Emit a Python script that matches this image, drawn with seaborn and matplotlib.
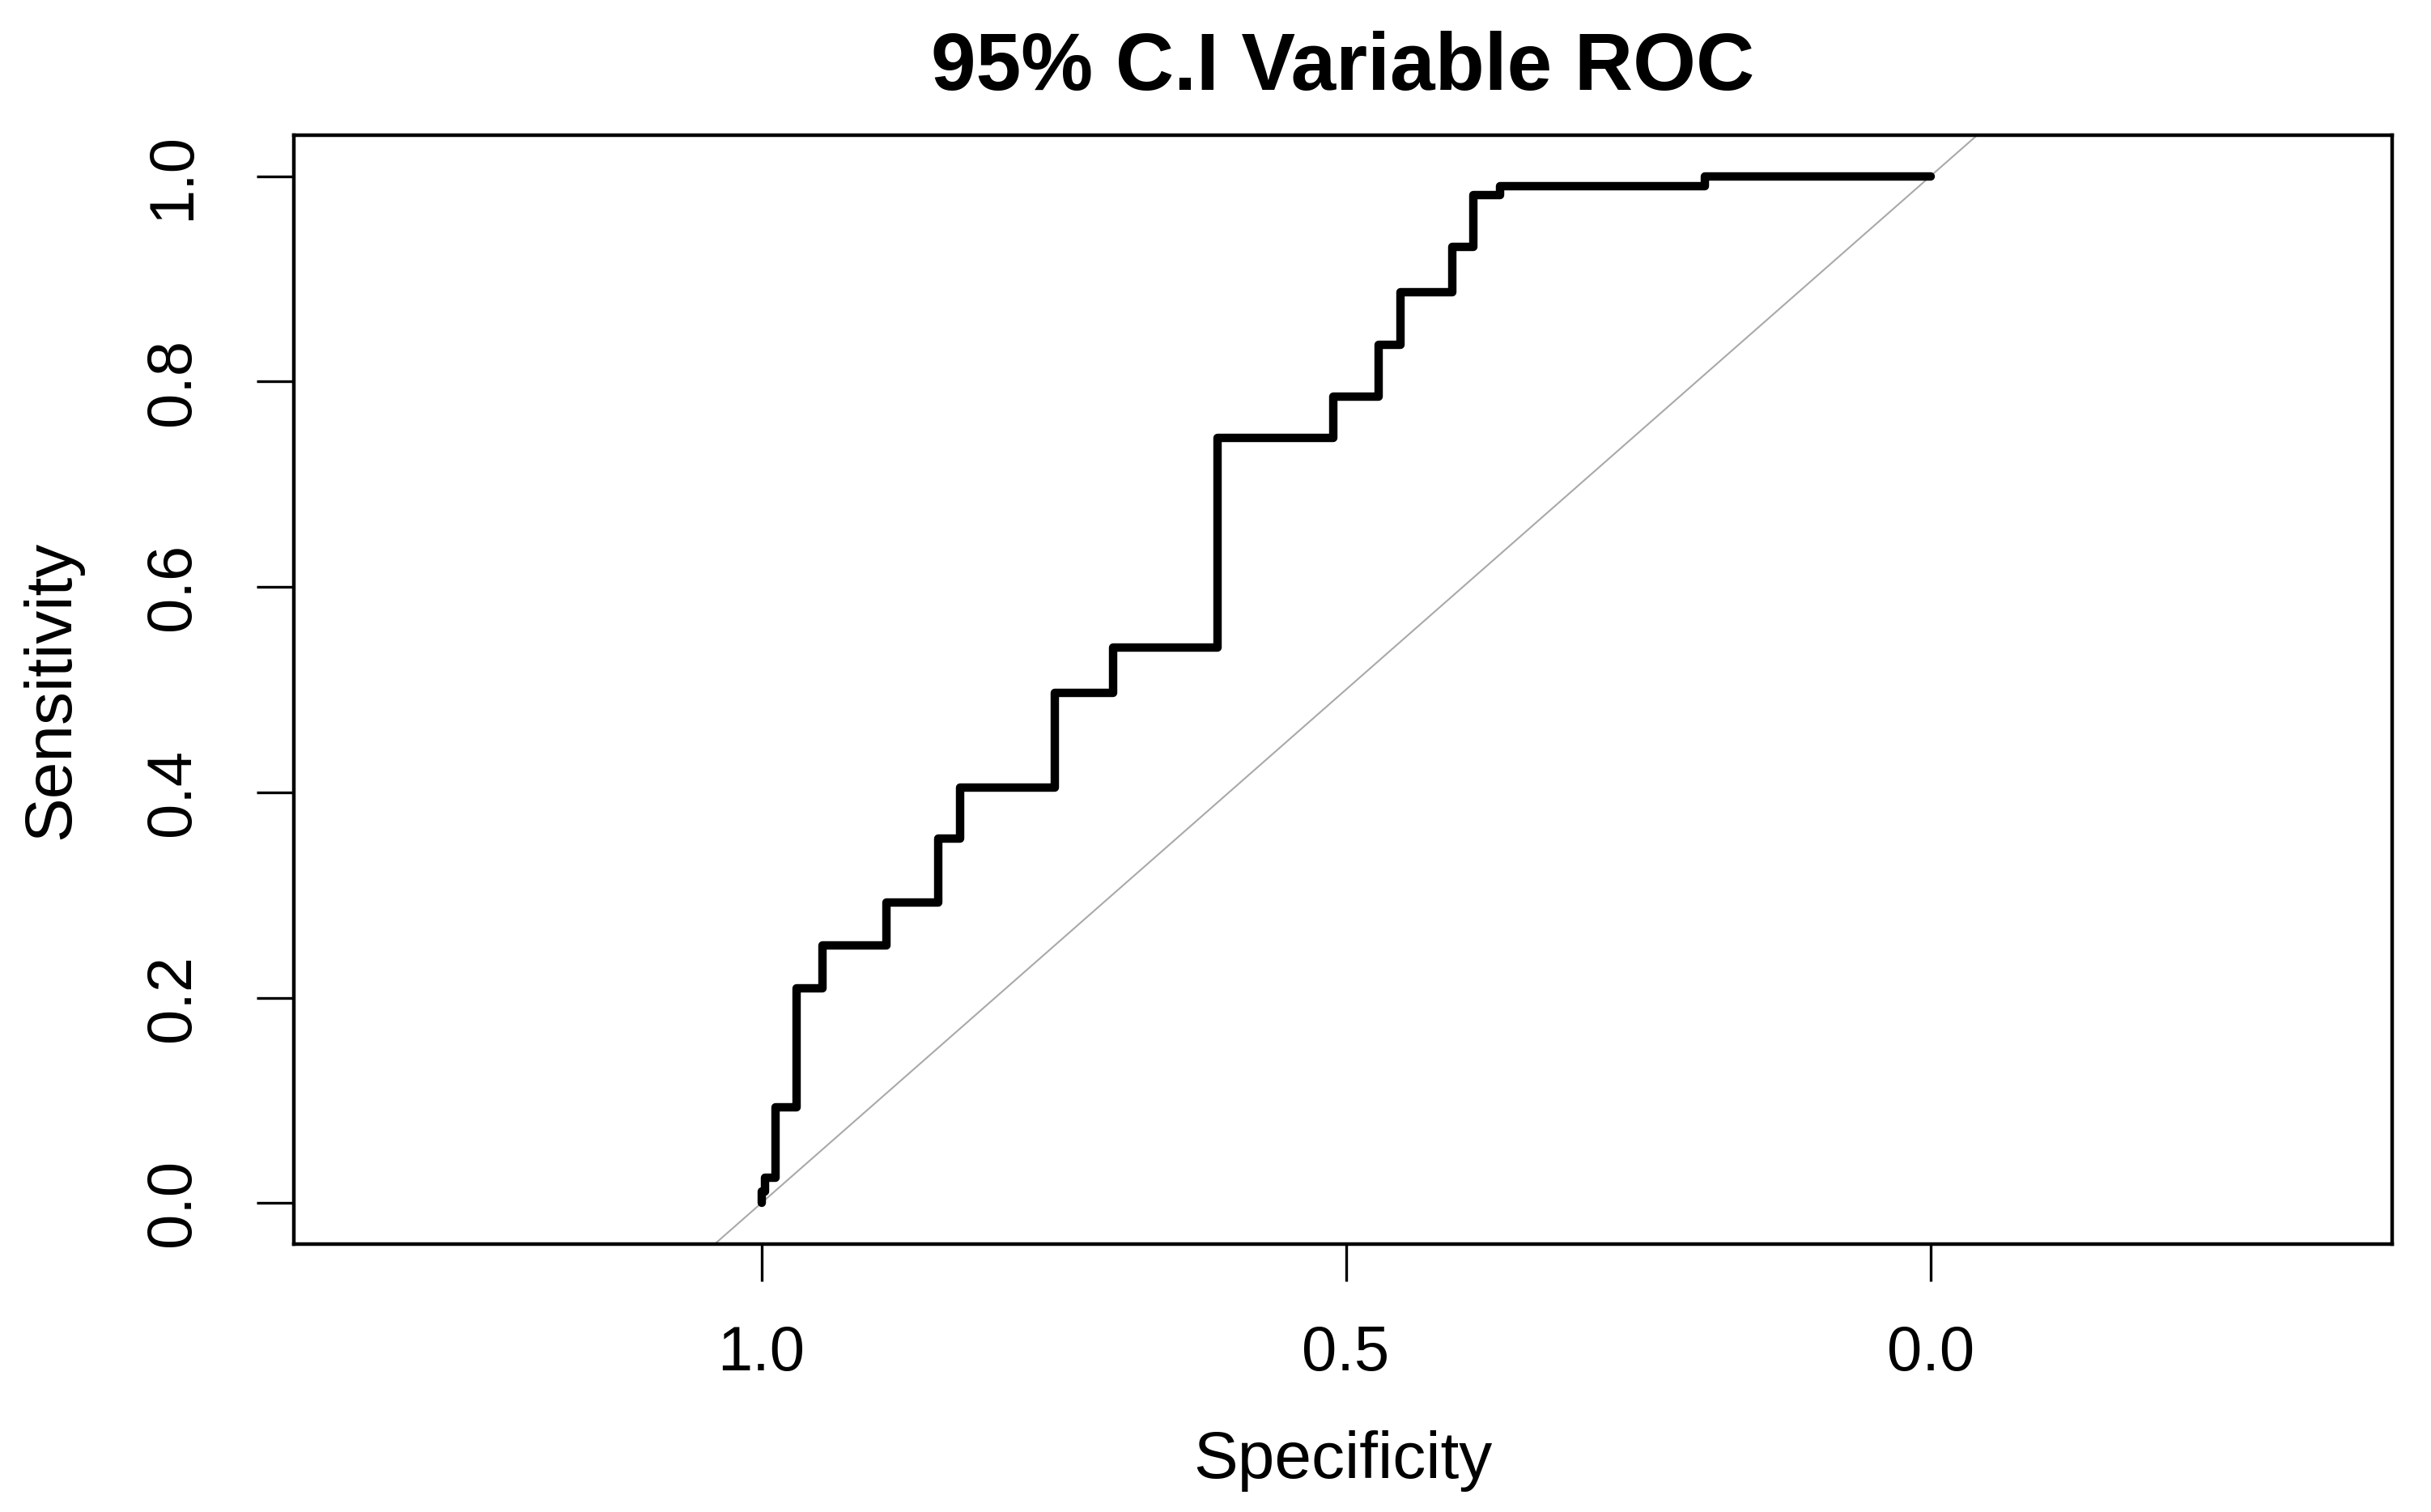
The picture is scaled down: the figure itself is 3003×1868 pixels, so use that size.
import numpy as np
import pandas as pd
import matplotlib
matplotlib.use("Agg")
import matplotlib.pyplot as plt
import seaborn as sns

# ROC step corners (specificity decreasing left to right)
specificity = [1.000, 1.000, 0.997, 0.997, 0.988, 0.988, 0.970, 0.970, 0.948, 0.948,
               0.893, 0.893, 0.849, 0.849, 0.830, 0.830, 0.749, 0.749, 0.699, 0.699,
               0.610, 0.610, 0.511, 0.511, 0.472, 0.472, 0.453, 0.453, 0.409, 0.409,
               0.391, 0.391, 0.368, 0.368, 0.193, 0.193, 0.000]
sensitivity = [0.000, 0.011, 0.011, 0.025, 0.025, 0.093, 0.093, 0.209, 0.209, 0.251,
               0.251, 0.293, 0.293, 0.355, 0.355, 0.405, 0.405, 0.497, 0.497, 0.541,
               0.541, 0.745, 0.745, 0.785, 0.785, 0.836, 0.836, 0.887, 0.887, 0.931,
               0.931, 0.982, 0.982, 0.990, 0.990, 1.000, 1.000]

x_ticks = [1.0, 0.5, 0.0]
x_tick_labels = ["1.0", "0.5", "0.0"]
y_ticks = [0.0, 0.2, 0.4, 0.6, 0.8, 1.0]
y_tick_labels = ["0.0", "0.2", "0.4", "0.6", "0.8", "1.0"]

title = "95% C.I Variable ROC"
x_label = "Specificity"
y_label = "Sensitivity"


def plot_roc():
    sns.set_style("white")
    plt.rcParams['font.family'] = ['Liberation Sans', 'DejaVu Sans']
    plt.rcParams['text.color'] = 'black'
    plt.rcParams['axes.labelcolor'] = 'black'
    plt.rcParams['xtick.color'] = 'black'
    plt.rcParams['ytick.color'] = 'black'

    df = pd.DataFrame({"spec": specificity, "sens": sensitivity})

    W, H = 3003, 1868
    fig = plt.figure(figsize=(W / 100, H / 100), dpi=100)
    ax = fig.add_axes([363 / W, 1 - 1537 / H, (2955 - 363) / W, (1537 - 167) / H])

    # chance diagonal
    ax.axline((1, 0), (0, 1), color="#a9a9a9", linewidth=1.5, zorder=1)

    sns.lineplot(data=df, x="spec", y="sens", sort=False, estimator=None,
                 color="black", linewidth=7.5, ax=ax, zorder=2)

    ax.set_xlim(1.40, -0.395)
    ax.set_ylim(-0.04, 1.04)

    ax.set_xticks(x_ticks)
    ax.set_xticklabels(x_tick_labels)
    ax.set_yticks(y_ticks)
    ax.set_yticklabels(y_tick_labels, rotation=90, va="center")

    for s in ax.spines.values():
        s.set_visible(True)
        s.set_color("black")
        s.set_linewidth(3.2)

    ax.tick_params(axis="both", which="major", direction="out", colors="black",
                   width=2.4, length=33, labelsize=56, bottom=True, left=True)
    ax.tick_params(axis="x", pad=38)
    ax.tick_params(axis="y", pad=48)

    ax.set_xlabel(x_label, fontsize=59, labelpad=42)
    ax.set_ylabel(y_label, fontsize=59, labelpad=54)
    ax.set_title(title, fontsize=72, fontweight="bold", pad=40, color="black")

    fig.savefig("out.png", dpi=100, facecolor="white")
    plt.close(fig)


if __name__ == "__main__":
    plot_roc()
